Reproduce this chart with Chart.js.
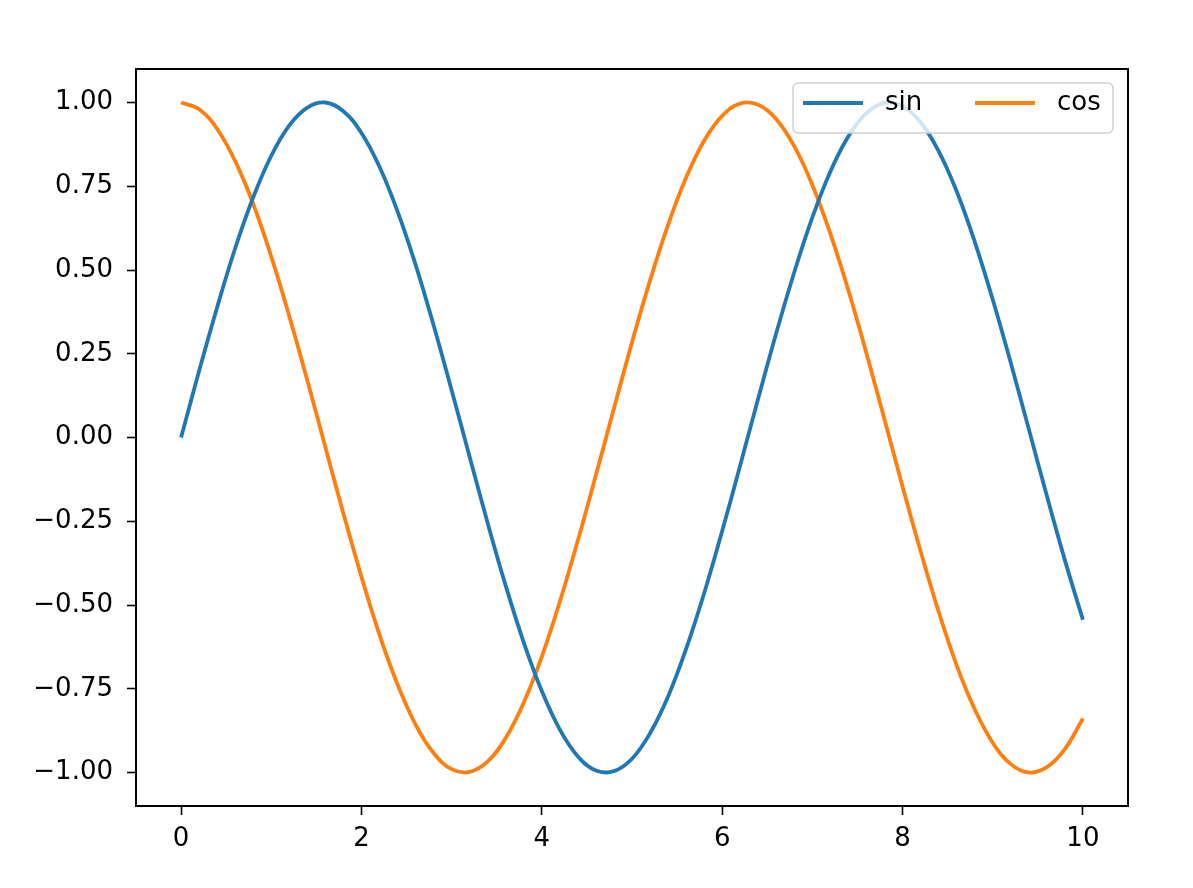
<!DOCTYPE html>
<html>
<head>
<meta charset="utf-8">
<script src="https://cdn.jsdelivr.net/npm/chart.js@4/dist/chart.umd.min.js"></script>
<style>
  html, body { margin: 0; padding: 0; background: #fff; }
  #wrap { width: 1193px; height: 888px; }
</style>
</head>
<body>
<div id="wrap"><canvas id="myChart" width="1193" height="888"></canvas></div>
<script>
// x positions (0 .. 10, every 0.2) and values
const xValues = [0, 0.2, 0.4, 0.6, 0.8, 1, 1.2, 1.4, 1.6, 1.8, 2, 2.2, 2.4, 2.6, 2.8, 3, 3.2, 3.4, 3.6, 3.8,
    4, 4.2, 4.4, 4.6, 4.8, 5, 5.2, 5.4, 5.6, 5.8, 6, 6.2, 6.4, 6.6, 6.8, 7, 7.2, 7.4, 7.6, 7.8,
    8, 8.2, 8.4, 8.6, 8.8, 9, 9.2, 9.4, 9.6, 9.8, 10];
const sinValues = [0.000, 0.199, 0.389, 0.565, 0.717, 0.841, 0.932, 0.985, 1.000, 0.974,
    0.909, 0.808, 0.675, 0.516, 0.335, 0.141, -0.058, -0.256, -0.443, -0.612,
    -0.757, -0.872, -0.952, -0.994, -0.996, -0.959, -0.883, -0.773, -0.631, -0.465,
    -0.279, -0.083, 0.117, 0.312, 0.494, 0.657, 0.794, 0.899, 0.968, 0.999,
    0.989, 0.941, 0.855, 0.735, 0.585, 0.412, 0.223, 0.025, -0.174, -0.366, -0.544];
const cosValues = [1.000, 0.980, 0.921, 0.825, 0.697, 0.540, 0.362, 0.170, -0.029, -0.227,
    -0.416, -0.589, -0.737, -0.857, -0.942, -0.990, -0.998, -0.967, -0.897, -0.791,
    -0.654, -0.490, -0.307, -0.112, 0.087, 0.284, 0.469, 0.635, 0.776, 0.886,
    0.960, 0.997, 0.993, 0.950, 0.869, 0.754, 0.608, 0.439, 0.251, 0.054,
    -0.146, -0.339, -0.520, -0.680, -0.811, -0.911, -0.975, -1.000, -0.984, -0.930, -0.839];
const seriesLabels = ['sin', 'cos'];
const xTicks = [0, 2, 4, 6, 8, 10];
const yTicks = [-1, -0.75, -0.5, -0.25, 0, 0.25, 0.5, 0.75, 1];

const FONT = { family: "'DejaVu Sans', sans-serif", size: 26 };

// axes frame + legend box, drawn by hand like matplotlib
const frameAndLegend = {
    id: 'frameAndLegend',
    afterDatasetsDraw(chart) {
        const c = chart.ctx;
        const a = chart.chartArea;
        c.save();
        // legend
        const bx = a.right - 335, by = a.top + 14, bw = 320, bh = 50;
        c.beginPath();
        c.roundRect(bx, by, bw, bh, 5);
        c.fillStyle = 'rgba(255,255,255,0.8)';
        c.fill();
        c.strokeStyle = '#d0d0d0';
        c.lineWidth = 1.5;
        c.stroke();
        c.font = FONT.size + 'px ' + FONT.family;
        c.textBaseline = 'middle';
        c.fillStyle = '#000';
        const ly = by + 20;
        chart.data.datasets.forEach((ds, i) => {
            const x0 = bx + 10 + i * 172;
            c.beginPath();
            c.moveTo(x0, ly);
            c.lineTo(x0 + 60, ly);
            c.strokeStyle = ds.borderColor;
            c.lineWidth = 3.8;
            c.stroke();
            c.fillText(ds.label, x0 + 82, ly);
        });
        // frame
        c.strokeStyle = '#000';
        c.lineWidth = 2;
        c.strokeRect(a.left, a.top, a.right - a.left, a.bottom - a.top);
        c.restore();
    }
};

const ctx = document.getElementById('myChart').getContext('2d');
const myChart = new Chart(ctx, {
    type: 'line',
    data: {
        datasets: [{
            label: seriesLabels[0],
            data: xValues.map((x, i) => ({ x: x, y: sinValues[i] })),
            borderColor: '#1f77b4',
            borderWidth: 3.8,
            pointRadius: 0,
            tension: 0.4
        }, {
            label: seriesLabels[1],
            data: xValues.map((x, i) => ({ x: x, y: cosValues[i] })),
            borderColor: '#ff7f0e',
            borderWidth: 3.8,
            pointRadius: 0,
            tension: 0.4
        }]
    },
    options: {
        responsive: false,
        animation: false,
        layout: { padding: { top: 69, right: 65, left: 0, bottom: 0 } },
        plugins: {
            legend: { display: false },
            tooltip: { enabled: false }
        },
        scales: {
            x: {
                type: 'linear',
                min: -0.5,
                max: 10.5,
                afterBuildTicks(scale) { scale.ticks = xTicks.map(v => ({ value: v })); },
                afterFit(scale) { scale.height = 82; },
                ticks: { color: '#000', font: FONT, padding: 9, maxRotation: 0,
                    callback: v => String(v) },
                grid: { drawOnChartArea: false, drawTicks: true, tickLength: 9, tickWidth: 1.6, color: '#000' },
                border: { display: false }
            },
            y: {
                type: 'linear',
                min: -1.1,
                max: 1.1,
                afterBuildTicks(scale) { scale.ticks = yTicks.map(v => ({ value: v })); },
                afterFit(scale) { scale.width = 136; },
                ticks: { color: '#000', font: FONT, padding: 14,
                    callback: v => v.toFixed(2).replace('-', '\u2212') },
                grid: { drawOnChartArea: false, drawTicks: true, tickLength: 9, tickWidth: 1.6, color: '#000' },
                border: { display: false }
            }
        }
    },
    plugins: [frameAndLegend]
});
</script>
</body>
</html>
